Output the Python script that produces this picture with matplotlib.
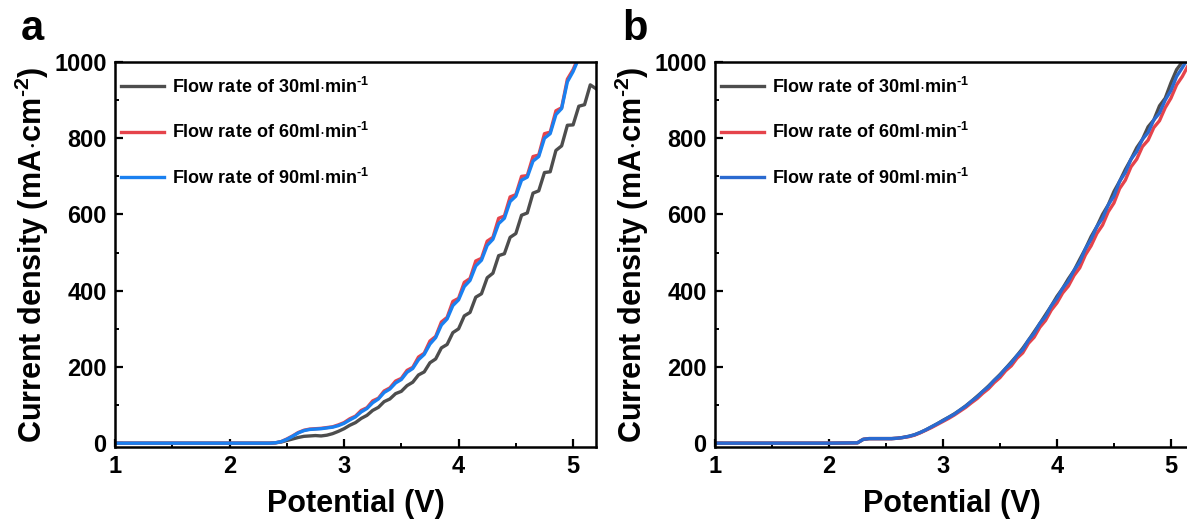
import matplotlib
matplotlib.use("Agg")
import matplotlib.pyplot as plt
from matplotlib.ticker import MultipleLocator

plt.rcParams["font.family"] = ["Liberation Sans", "DejaVu Sans"]
plt.rcParams["font.weight"] = "bold"
plt.rcParams["mathtext.fontset"] = "custom"
plt.rcParams["mathtext.rm"] = "Liberation Sans:bold"
plt.rcParams["mathtext.bf"] = "Liberation Sans:bold"
plt.rcParams["mathtext.default"] = "bf"

# potential (V)
potential = [1.0, 2.0, 2.25, 2.3, 2.35, 2.4, 2.45, 2.5, 2.55, 2.6, 2.65, 2.7,
             2.75, 2.8, 2.85, 2.9, 2.95, 3.0, 3.05, 3.1, 3.15, 3.2, 3.25,
             3.3, 3.35, 3.4, 3.45, 3.5, 3.55, 3.6, 3.65, 3.7, 3.75, 3.8,
             3.85, 3.9, 3.95, 4.0, 4.05, 4.1, 4.15, 4.2, 4.25, 4.3, 4.35,
             4.4, 4.45, 4.5, 4.55, 4.6, 4.65, 4.7, 4.75, 4.8, 4.85, 4.9,
             4.95, 5.0, 5.05, 5.1, 5.15, 5.2]

# panel a, current density (mA/cm2)
a_30 = [0, 0, 0, 0, 0, 1, 3, 7, 11, 15, 18, 19,
        20, 19, 21, 25, 31, 38, 47, 54, 65, 73, 86,
        94, 109, 116, 130, 136, 151, 160, 179, 187, 211, 221,
        250, 259, 290, 300, 334, 343, 383, 392, 434, 446, 492,
        497, 540, 550, 598, 604, 656, 662, 710, 712, 768, 780,
        834, 835, 884, 888, 940, 930]
a_60 = [0, 0, 0, 0, 0, 1, 4, 11, 19, 28, 34, 37,
        38, 39, 41, 43, 48, 54, 64, 71, 86, 93, 111,
        118, 137, 145, 163, 170, 191, 199, 226, 236, 268, 280,
        318, 330, 372, 380, 422, 432, 478, 485, 530, 540, 590,
        596, 646, 652, 700, 702, 752, 756, 812, 816, 872, 880,
        955, 980, 1015, 1040, 1065, 1075]
a_90 = [0, 0, 0, 0, 0, 1, 4, 10, 18, 27, 33, 36,
        37, 38, 40, 42, 46, 52, 61, 69, 82, 91, 106,
        116, 133, 142, 158, 167, 186, 196, 219, 233, 260, 277,
        310, 326, 361, 376, 411, 427, 465, 480, 519, 535, 576,
        590, 634, 648, 690, 698, 740, 752, 800, 812, 862, 878,
        948, 975, 1010, 1040, 1060, 1070]

# panel b
b_30 = [0, 0, 1, 10, 12, 12, 12, 12, 12, 13, 15, 18,
        22, 28, 35, 43, 51, 60, 68, 77, 87, 98, 110,
        123, 136, 150, 165, 180, 196, 213, 230, 249, 270, 292,
        314, 337, 360, 385, 406, 431, 453, 482, 510, 542, 568,
        600, 625, 660, 687, 718, 745, 775, 797, 830, 848, 885,
        905, 945, 980, 1000, 1020, 1040]
b_60 = [0, 0, 1, 10, 12, 12, 12, 12, 12, 13, 15, 17,
        21, 27, 34, 41, 49, 57, 65, 74, 84, 94, 106,
        117, 131, 143, 159, 172, 190, 203, 223, 237, 262, 278,
        304, 322, 349, 368, 394, 412, 440, 460, 494, 518, 550,
        572, 607, 630, 668, 690, 725, 745, 778, 795, 828, 846,
        880, 905, 940, 962, 990, 1005]
b_90 = [0, 0, 1, 10, 12, 12, 12, 12, 12, 13, 15, 18,
        22, 28, 35, 43, 51, 59, 68, 76, 87, 97, 110,
        121, 136, 148, 165, 178, 196, 210, 230, 245, 270, 288,
        314, 332, 360, 380, 406, 425, 453, 475, 510, 535, 568,
        590, 625, 648, 687, 710, 745, 765, 797, 815, 848, 866,
        900, 925, 962, 985, 1010, 1030]

labels = [r"Flow rate of 30ml$\cdot$min$^{\text{-1}}$",
          r"Flow rate of 60ml$\cdot$min$^{\text{-1}}$",
          r"Flow rate of 90ml$\cdot$min$^{\text{-1}}$"]

fig = plt.figure(figsize=(11.87, 5.30), dpi=100)
ax_a = fig.add_axes([115 / 1187, 83 / 530, 481 / 1187, 385 / 530])
ax_b = fig.add_axes([715 / 1187, 83 / 530, 473 / 1187, 385 / 530])

panels = [
    (ax_a, "a", [a_30, a_60, a_90], ["#4d4d4d", "#e5434b", "#1a80f0"], 5.2),
    (ax_b, "b", [b_30, b_60, b_90], ["#4d4d4d", "#e5434b", "#2a6ad0"], 5.15),
]

for ax, letter, series, colors, xmax in panels:
    for ys, c, lab in zip(series, colors, labels):
        ax.plot(potential, ys, color=c, linewidth=2.4, label=lab)
    ax.set_xlim(1, xmax)
    ax.set_ylim(-10, 1000)
    ax.xaxis.set_major_locator(MultipleLocator(1))
    ax.xaxis.set_minor_locator(MultipleLocator(0.5))
    ax.yaxis.set_major_locator(MultipleLocator(200))
    ax.yaxis.set_minor_locator(MultipleLocator(100))
    ax.tick_params(which="both", direction="in", top=False, right=False,
                   labelsize=17, pad=6)
    ax.tick_params(which="major", length=6, width=1.6)
    ax.tick_params(which="minor", length=3, width=1.4)
    for sp in ax.spines.values():
        sp.set_linewidth(1.8)
    ax.set_xlabel("Potential (V)", fontsize=22, fontweight="bold", labelpad=8)
    ax.set_ylabel(r"Current density (mA$\cdot$cm$^{\text{-2}}$)", fontsize=22,
                  fontweight="bold", labelpad=2)
    ax.legend(loc="upper left", bbox_to_anchor=(-0.01, 0.99), frameon=False,
              fontsize=13, handlelength=2.4, handletextpad=0.42,
              labelspacing=1.4, borderaxespad=0.2)
    ax.text(-0.195, 1.035, letter, transform=ax.transAxes, fontsize=30,
            fontweight="bold", va="bottom", ha="left")

fig.savefig("out.png", dpi=100)
